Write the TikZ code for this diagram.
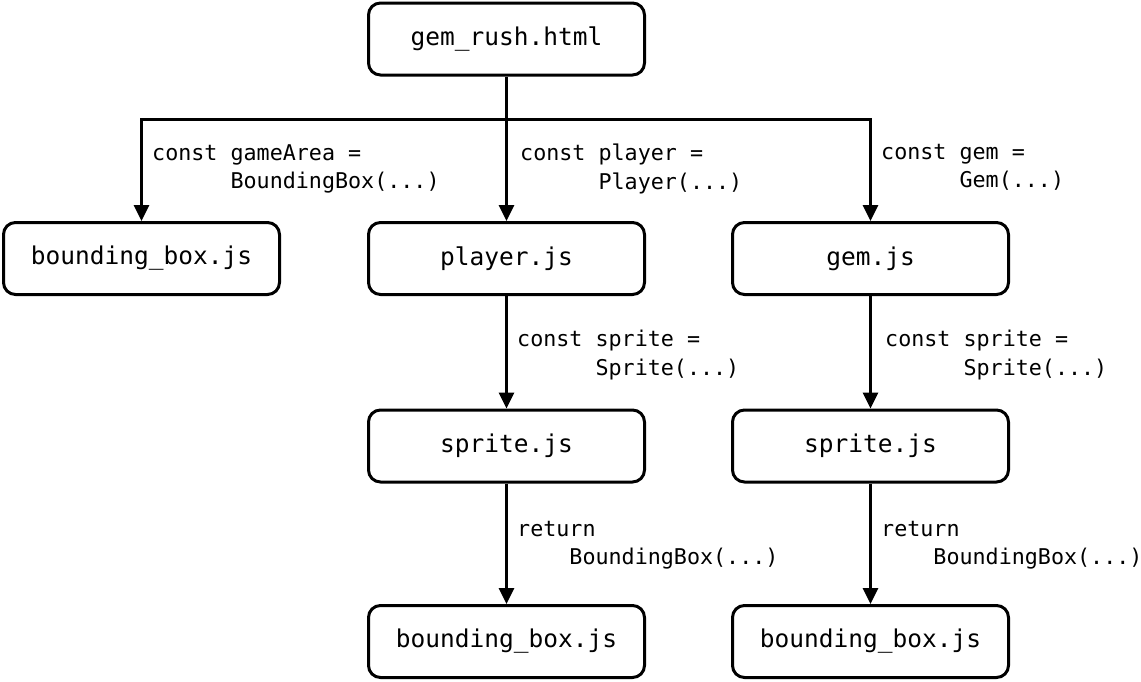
\documentclass[tikz,border=0pt]{standalone}
\usepackage{fontspec}
\setmonofont{DejaVu Sans Mono}
\usetikzlibrary{arrows.meta}
\begin{document}
\begin{tikzpicture}[x=1pt,y=-1pt,
  box/.style={draw, line width=3pt, rounded corners=12pt, minimum width=276pt, minimum height=72pt, inner sep=0pt, font=\ttfamily\fontsize{24.5}{28}\selectfont},
  arr/.style={line width=3pt, -{Triangle[width=15pt,length=16pt]}},
  lbl/.style={inner sep=0pt, anchor=north west, align=left, font=\ttfamily\fontsize{21.7}{28.5}\selectfont}]
\useasboundingbox (0,0) rectangle (1141,681);
\node[box] (root) at (506.5,39) {gem\_rush.html};
\node[box] (bbl) at (141.5,258.5) {bounding\_box.js};
\node[box] (pl) at (506.5,258.5) {player.js};
\node[box] (gem) at (870.5,258.5) {gem.js};
\node[box] (spl) at (506.5,446) {sprite.js};
\node[box] (spr) at (870.5,446) {sprite.js};
\node[box] (bbm) at (506.5,641.5) {bounding\_box.js};
\node[box] (bbr) at (870.5,641.5) {bounding\_box.js};
\coordinate (j) at (506.5,119);
\draw[arr] (root.south) -- (pl.north);
\draw[arr] (j) -| (bbl.north);
\draw[arr] (j) -| (gem.north);
\draw[arr] (pl.south) -- (spl.north);
\draw[arr] (gem.south) -- (spr.north);
\draw[arr] (spl.south) -- (bbm.north);
\draw[arr] (spr.south) -- (bbr.north);
\node[lbl] (l1) at (152,144) {const gameArea =\\\phantom{const }BoundingBox(...)};
\node[lbl] (l2) at (520,144) {const player =\\\phantom{const }Player(...)};
\node[lbl] (l3) at (881,144) {const gem =\\\phantom{const }Gem(...)};
\node[lbl] (l4) at (517,330) {const sprite =\\\phantom{const }Sprite(...)};
\node[lbl] (l5) at (885,330) {const sprite =\\\phantom{const }Sprite(...)};
\node[lbl] (l6) at (517,521) {return\\\phantom{retu}BoundingBox(...)};
\node[lbl] (l7) at (881,521) {return\\\phantom{retu}BoundingBox(...)};
\end{tikzpicture}
\end{document}
